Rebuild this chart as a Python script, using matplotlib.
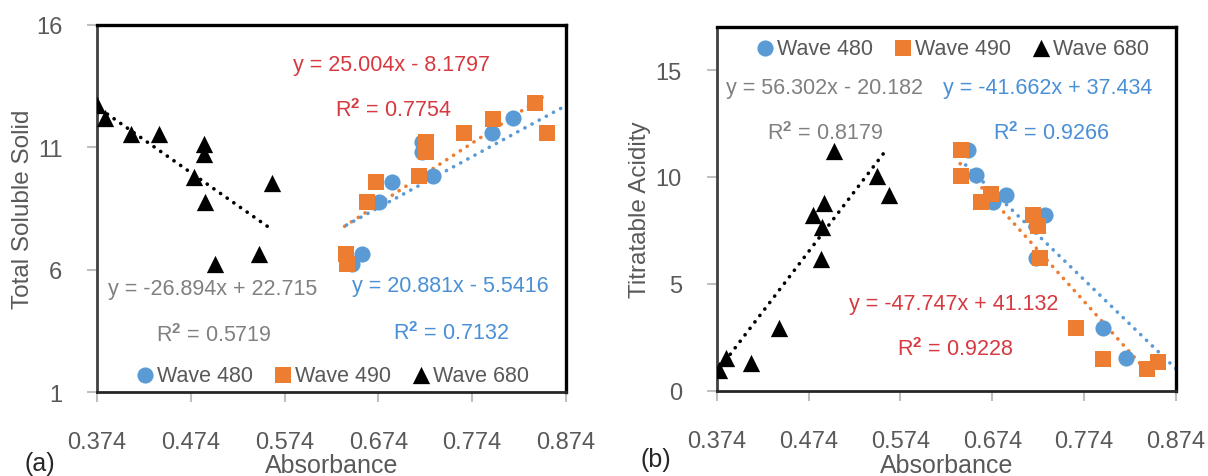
import matplotlib
matplotlib.use("Agg")
import matplotlib.pyplot as plt
import numpy as np

plt.rcParams['font.family'] = ['Liberation Sans', 'DejaVu Sans']
plt.rcParams['mathtext.fontset'] = 'custom'
plt.rcParams['mathtext.rm'] = 'Liberation Sans'
plt.rcParams['mathtext.bf'] = 'Liberation Sans:bold'

# ---------------- data ----------------
x_ticks = [0.374, 0.474, 0.574, 0.674, 0.774, 0.874]
x_tick_labels = ["0.374", "0.474", "0.574", "0.674", "0.774", "0.874"]

# (a) Total Soluble Solid
tss_abs480 = [0.646, 0.657, 0.675, 0.688, 0.721, 0.721, 0.732, 0.795, 0.818]
tss_val480 = [6.23, 6.64, 8.78, 9.57, 11.2, 10.79, 9.81, 11.57, 12.18]
tss_abs490 = [0.639, 0.641, 0.662, 0.671, 0.717, 0.725, 0.725, 0.765, 0.796, 0.841, 0.854]
tss_val490 = [6.64, 6.23, 8.78, 9.57, 9.84, 11.2, 10.79, 11.57, 12.15, 12.81, 11.57]
tss_abs680 = [0.374, 0.383, 0.410, 0.440, 0.4876, 0.488, 0.4776, 0.489, 0.5606, 0.500, 0.547]
tss_val680 = [12.73, 12.18, 11.54, 11.54, 11.13, 10.72, 9.77, 8.78, 9.54, 6.23, 6.64]
tss_yticks = [1, 6, 11, 16]

# trendlines (slope, intercept, x-start, x-end)
tss_fit480 = [20.881, -5.5416, 0.640, 0.874]
tss_fit490 = [25.004, -8.1797, 0.638, 0.8535]
tss_fit680 = [-26.894, 22.715, 0.378, 0.558]

# (b) Titratable Acidity
ta_abs480 = [0.648, 0.656, 0.675, 0.689, 0.731, 0.722, 0.722, 0.794, 0.820]
ta_val480 = [11.25, 10.08, 8.83, 9.17, 8.24, 7.71, 6.21, 2.94, 1.52]
ta_abs490 = [0.640, 0.640, 0.662, 0.673, 0.718, 0.724, 0.726, 0.765, 0.795, 0.842, 0.854]
ta_val490 = [11.25, 10.05, 8.83, 9.22, 8.24, 7.71, 6.21, 2.94, 1.49, 1.02, 1.33]
ta_abs680 = [0.376, 0.384, 0.411, 0.442, 0.479, 0.491, 0.489, 0.488, 0.502, 0.548, 0.562]
ta_val680 = [0.98, 1.52, 1.30, 2.92, 8.20, 8.80, 7.66, 6.17, 11.22, 10.05, 9.17]
ta_yticks = [0, 5, 10, 15]

ta_fit480 = [-41.662, 37.434, 0.645, 0.874]
ta_fit490 = [-47.747, 41.132, 0.639, 0.852]
ta_fit680 = [56.302, -20.182, 0.378, 0.560]

# ---------------- style ----------------
C480 = '#5B9BD5'
C490 = '#ED7D31'
C680 = '#000000'
RED = '#D6393F'
GRAY = '#808080'
BLUE = '#4A90D6'
TICKC = '#595959'

fig = plt.figure(figsize=(12.08, 4.77), dpi=100)
axA = fig.add_axes([0.0803, 0.1761, 0.3882, 0.7694])
axB = fig.add_axes([0.5933, 0.1788, 0.3802, 0.7618])


def trend(ax, fit, color):
    m, b, x0, x1 = fit
    xs = np.linspace(x0, x1, 50)
    ax.plot(xs, m * xs + b, color=color, lw=2.6, linestyle=(0, (0.05, 2.2)),
            dash_capstyle='round', solid_capstyle='round', zorder=2)


def style(ax, yticks, ylim, ylabel, ypad):
    ax.set_xlim(0.374, 0.874)
    ax.set_ylim(*ylim)
    ax.set_xticks(x_ticks)
    ax.set_xticklabels(x_tick_labels)
    ax.set_yticks(yticks)
    ax.tick_params(direction='out', length=7, width=1.5, color='#bfbfbf',
                   labelcolor=TICKC, labelsize=17)
    ax.tick_params(axis='x', pad=21)
    ax.tick_params(axis='y', pad=ypad)
    for s in ['top', 'right']:
        ax.spines[s].set_color('black')
        ax.spines[s].set_linewidth(2.4)
    ax.spines['bottom'].set_color('#262626')
    ax.spines['bottom'].set_linewidth(2.0)
    ax.spines['left'].set_color('#404040')
    ax.spines['left'].set_linewidth(2.0)
    ax.set_xlabel('Absorbance', fontsize=18, color=TICKC, va='center')
    ax.set_ylabel(ylabel, fontsize=17.5, color=TICKC)


def scatter(ax, x480, y480, x490, y490, x680, y680):
    ax.scatter(x480, y480, s=135, marker='o', color=C480, label='Wave 480',
               zorder=3, linewidths=0)
    ax.scatter(x490, y490, s=130, marker='s', color=C490, label='Wave 490',
               zorder=4, linewidths=0)
    ax.scatter(x680, y680, s=155, marker='^', color=C680, label='Wave 680',
               zorder=5, linewidths=0)


# ----- panel (a) -----
scatter(axA, tss_abs480, tss_val480, tss_abs490, tss_val490, tss_abs680, tss_val680)
trend(axA, tss_fit680, C680)
trend(axA, tss_fit490, C490)
trend(axA, tss_fit480, C480)
style(axA, tss_yticks, (1, 16), 'Total Soluble Solid', 18)
axA.yaxis.set_label_coords(-0.135, 0.5)
axA.xaxis.set_label_coords(0.5, -0.2)

fs = 15.5
axA.text(0.629, 0.893, 'y = 25.004x - 8.1797', color=RED, fontsize=fs,
         ha='center', va='center', transform=axA.transAxes)
axA.text(0.631, 0.769, r'R$^{\mathbf{2}}$ = 0.7754', color=RED, fontsize=fs,
         ha='center', va='center', transform=axA.transAxes)
axA.text(0.246, 0.281, 'y = -26.894x + 22.715', color=GRAY, fontsize=fs,
         ha='center', va='center', transform=axA.transAxes)
axA.text(0.25, 0.156, r'R$^{\mathbf{2}}$ = 0.5719', color=GRAY, fontsize=fs,
         ha='center', va='center', transform=axA.transAxes)
axA.text(0.753, 0.289, 'y = 20.881x - 5.5416', color=BLUE, fontsize=fs,
         ha='center', va='center', transform=axA.transAxes)
axA.text(0.755, 0.161, r'R$^{\mathbf{2}}$ = 0.7132', color=BLUE, fontsize=fs,
         ha='center', va='center', transform=axA.transAxes)

axA.legend(loc='center', bbox_to_anchor=(0.5, 0.046), ncol=3,
           frameon=False, fontsize=fs, handletextpad=0.05,
           columnspacing=0.9, borderaxespad=0, handlelength=1.0,
           labelcolor=TICKC)

fig.text(24 / 1208, 1 - 464 / 477, '(a)', fontsize=18, color='#262626',
         ha='left', va='center')

# ----- panel (b) -----
scatter(axB, ta_abs480, ta_val480, ta_abs490, ta_val490, ta_abs680, ta_val680)
trend(axB, ta_fit680, C680)
trend(axB, ta_fit490, C490)
trend(axB, ta_fit480, C480)
style(axB, ta_yticks, (0, 17), 'Titratable Acidity', 18)
axB.yaxis.set_label_coords(-0.142, 0.5)
axB.xaxis.set_label_coords(0.5, -0.204)

axB.text(0.235, 0.834, 'y = 56.302x - 20.182', color=GRAY, fontsize=fs,
         ha='center', va='center', transform=axB.transAxes)
axB.text(0.721, 0.834, 'y = -41.662x + 37.434', color=BLUE, fontsize=fs,
         ha='center', va='center', transform=axB.transAxes)
axB.text(0.235, 0.710, r'R$^{\mathbf{2}}$ = 0.8179', color=GRAY, fontsize=fs,
         ha='center', va='center', transform=axB.transAxes)
axB.text(0.727, 0.710, r'R$^{\mathbf{2}}$ = 0.9266', color=BLUE, fontsize=fs,
         ha='center', va='center', transform=axB.transAxes)
axB.text(0.516, 0.240, 'y = -47.747x + 41.132', color=RED, fontsize=fs,
         ha='center', va='center', transform=axB.transAxes)
axB.text(0.519, 0.116, r'R$^{\mathbf{2}}$ = 0.9228', color=RED, fontsize=fs,
         ha='center', va='center', transform=axB.transAxes)

axB.legend(loc='center', bbox_to_anchor=(0.511, 0.942), ncol=3,
           frameon=False, fontsize=fs, handletextpad=0.05,
           columnspacing=0.9, borderaxespad=0, handlelength=1.0,
           labelcolor=TICKC)

fig.text(641 / 1208, 1 - 460 / 477, '(b)', fontsize=18, color='#262626',
         ha='left', va='center')

fig.savefig('out.png', dpi=100)
